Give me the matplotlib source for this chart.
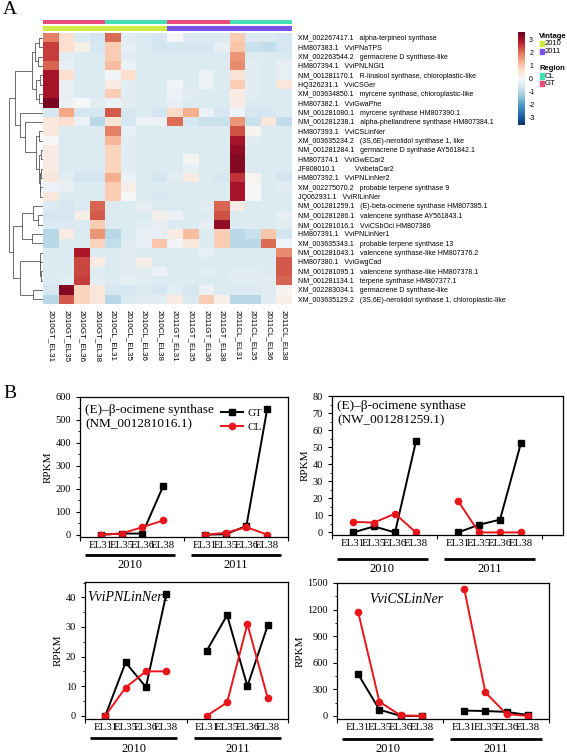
import numpy as np
import matplotlib
matplotlib.use("Agg")
import matplotlib.pyplot as plt
from matplotlib.colors import ListedColormap
from matplotlib.patches import Rectangle

plt.rcParams["axes.unicode_minus"] = False
W, H = 567, 754

# ---- panel A data -------------------------------------------------------
genes = [
    "XM_002267417.1   alpha-terpineol synthase",
    "HM807383.1   VviPNaTPS",
    "XM_002263544.2   germacrene D synthase-like",
    "HM807394.1   VviPNLNGl1",
    "NM_001281170.1   R-linalool synthase, chloroplastic-like",
    "HQ326231.1   VviCSGer",
    "XM_003634850.1   myrcene synthase, chloroplastic-like",
    "HM807382.1   VviGwaPhe",
    "NM_001281080.1   myrcene synthase HM807390.1",
    "NM_001281238.1   alpha-phellandrene synthase HM807384.1",
    "HM807393.1   VviCSLinNer",
    "XM_003635234.2   (3S,6E)-nerolidol synthase 1, like",
    "NM_001281284.1   germacrene D synthase AY561842.1",
    "HM807374.1   VviGwECar2",
    "JF808010.1          VvibetaCar2",
    "HM807392.1   VviPNLinNer2",
    "XM_002275070.2   probable terpene synthase 9",
    "JQ062931.1   VviRILinNer",
    "NM_001281259.1   (E)-beta-ocimene synthase HM807385.1",
    "NM_001281286.1   valencene synthase AY561843.1",
    "NM_001281016.1   VviCSbOci HM807386",
    "HM807391.1   VviPNLinNer1",
    "XM_003635343.1   probable terpene synthase 13",
    "NM_001281043.1   valencene synthase-like HM807376.2",
    "HM807380.1   VviGwgCad",
    "NM_001281095.1   valencene synthase-like HM807378.1",
    "NM_001281134.1   terpene synthase HM807377.1",
    "XM_002283034.1   germacrene D synthase-like",
    "XM_003635129.2   (3S,6E)-nerolidol synthase 1, chloroplastic-like",
]
samples = ["2010GT_EL31", "2010GT_EL35", "2010GT_EL36", "2010GT_EL38",
           "2010CL_EL31", "2010CL_EL35", "2010CL_EL36", "2010CL_EL38",
           "2011GT_EL31", "2011GT_EL35", "2011GT_EL36", "2011GT_EL38",
           "2011CL_EL31", "2011CL_EL35", "2011CL_EL36", "2011CL_EL38"]
region = ["GT"] * 4 + ["CL"] * 4 + ["GT"] * 4 + ["CL"] * 4
vintage = ["2010"] * 8 + ["2011"] * 8

zscores = np.array([
    [1.8, 0.6, -0.5, -0.7, 2.0, -0.4, -0.5, -0.6, 0.0, -0.5, -0.5, -0.5, 0.9, -0.5, -0.5, -0.6],
    [2.5, 0.6, 0.2, -0.6, 0.9, -0.3, -0.5, -0.7, -0.6, -0.6, -0.6, -0.3, 1.0, -0.8, -0.9, -0.6],
    [2.5, -0.4, -0.5, -0.5, 0.9, -0.4, -0.5, -0.5, -0.5, -0.5, -0.5, -0.5, 1.6, -0.5, -0.5, -0.5],
    [2.1, -0.3, -0.5, -0.5, 1.1, -0.2, -0.5, -0.5, -0.5, -0.5, -0.5, -0.5, 1.7, -0.4, -0.5, -0.3],
    [3.0, 0.6, -0.5, -0.5, -0.1, 0.6, -0.5, -0.5, -0.5, -0.5, -0.2, -0.5, 0.5, -0.4, -0.5, -0.3],
    [3.0, -0.3, -0.5, -0.5, 0.3, -0.4, -0.5, -0.5, -0.1, -0.5, -0.2, -0.5, 0.9, -0.4, -0.5, 0.4],
    [3.0, -0.3, -0.5, -0.5, 0.9, -0.4, -0.5, -0.5, -0.2, -0.4, -0.5, -0.5, 0.3, -0.4, -0.5, -0.5],
    [3.4, -0.2, 0.0, -0.4, -0.2, -0.4, -0.5, -0.5, -0.3, -0.5, -0.5, -0.5, 0.3, -0.5, -0.5, -0.5],
    [-0.6, 1.4, -0.6, -0.6, 2.2, -0.6, -0.5, -0.7, 0.7, 1.3, -0.2, -0.6, -0.1, -0.6, -0.6, -0.5],
    [0.4, 0.6, -0.2, -1.0, 0.5, -0.6, -0.2, -0.2, 2.0, -0.6, -0.8, -0.8, 1.6, -0.8, 0.4, -0.9],
    [0.4, -0.5, -0.5, -0.5, 1.8, -0.3, -0.5, -0.5, -0.5, -0.5, -0.5, -0.5, 2.3, 0.1, -0.5, -0.5],
    [0.0, -0.5, -0.5, -0.5, 1.2, -0.4, -0.5, -0.5, -0.5, -0.5, -0.5, -0.5, 3.0, -0.4, -0.5, -0.5],
    [0.3, -0.5, -0.5, -0.5, 0.8, -0.4, -0.5, -0.5, -0.5, -0.5, -0.5, -0.5, 3.2, -0.5, -0.5, -0.5],
    [0.3, -0.5, -0.5, -0.5, 0.8, -0.4, -0.5, -0.5, -0.5, 0.1, -0.5, -0.5, 3.3, -0.5, -0.5, -0.5],
    [0.3, -0.5, -0.5, -0.5, 0.8, -0.4, -0.5, -0.5, -0.5, -0.3, -0.5, -0.5, 3.3, -0.5, -0.5, -0.5],
    [0.4, -0.4, -0.7, -0.7, 1.3, -0.2, -0.5, -0.7, -0.4, 0.3, -0.5, -0.6, 2.6, 0.1, -0.5, -0.7],
    [-0.2, -0.3, -0.5, -0.5, 0.9, 0.2, -0.5, -0.5, -0.5, -0.5, -0.5, -0.5, 3.0, 0.0, -0.5, -0.4],
    [0.4, -0.5, -0.5, -0.5, 0.9, 0.0, -0.5, -0.6, -0.5, -0.5, -0.5, -0.5, 3.0, 0.0, -0.5, -0.5],
    [-0.5, -0.6, -0.5, 2.1, -0.5, -0.5, -0.3, -0.5, -0.5, -0.5, -0.4, 2.1, 0.3, -0.5, -0.5, -0.5],
    [-0.6, -0.6, 0.2, 2.2, -0.5, -0.5, -0.5, 0.2, -0.2, -0.5, -0.5, 2.3, -0.5, -0.5, -0.5, -0.3],
    [-0.5, -0.5, -0.5, 0.9, -0.5, -0.5, -0.4, -0.3, -0.5, -0.5, -0.3, 3.2, -0.5, -0.5, -0.5, -0.4],
    [-1.0, 0.3, -0.5, 1.6, -1.0, -0.5, -0.3, -0.3, 0.3, 1.1, -0.5, 0.9, -1.0, -0.8, 1.0, -0.7],
    [-1.0, -0.5, -0.5, 0.8, -0.9, -0.4, -0.3, 1.0, -0.1, 0.4, -0.5, 0.9, -1.0, -1.0, 2.0, -0.1],
    [-0.5, -0.5, 2.9, -0.5, -0.5, -0.4, -0.5, -0.5, -0.5, -0.5, -0.3, -0.5, -0.5, -0.5, -0.5, 1.7],
    [-0.5, -0.5, 2.4, 0.3, -0.5, -0.4, 0.2, -0.5, -0.5, -0.5, -0.5, -0.5, -0.5, -0.5, -0.5, 2.2],
    [-0.5, -0.5, 2.4, -0.4, -0.5, -0.4, -0.4, -0.2, -0.5, -0.5, -0.4, -0.5, -0.4, -0.4, -0.5, 2.2],
    [-0.5, -0.4, 2.5, -0.4, -0.5, -0.3, -0.4, -0.5, -0.5, -0.5, -0.5, -0.5, -0.4, -0.4, -0.4, 2.1],
    [-0.6, 3.3, 0.8, 0.4, -0.6, -0.6, -0.5, -0.6, -0.4, -0.6, -0.2, -0.5, -0.5, -0.5, -0.4, 0.1],
    [-1.0, 2.2, 0.8, 0.4, -1.0, -0.5, -0.4, -0.4, 0.3, -0.5, 0.9, 0.2, -1.0, -1.0, -0.4, 0.2],
])

# row dendrogram: (height, left, right), leaves are row indices
tree = (10.0,
        (8.2,
         (3.3, (2.4, (1.3, 0, 1), (1.6, 2, 3)), (2.0, (1.0, 4, 5), (1.2, 6, 7))),
         (6.8, 8, (5.3, 9, (2.0, (1.3, 10, 11),
                            (1.1, (0.6, 12, 13), (0.9, (0.5, 14, 15), (0.8, 16, 17))))))),
        (8.9,
         (6.2, (2.9, 18, (1.6, 19, 20)), (3.2, 21, 22)),
         (6.8, (1.0, 23, (0.8, 24, (0.5, 25, 26))), (3.0, 27, 28))))

# ---- panel B data (RPKM; 2010 EL31..EL38 then 2011 EL31..EL38) -----------
stages = ["EL31", "EL35", "EL36", "EL38"]
years = ["2010", "2011"]
oci1016_gt = [0, 5, 5, 212, 0, 2, 38, 548]
oci1016_cl = [0, 5, 33, 62, 0, 8, 33, 0]
oci1259_gt = [0, 3.5, 0, 53.5, 0, 4.5, 7.5, 52.5]
oci1259_cl = [6.2, 5.8, 11, 0, 18.5, 0, 0, 0]
pnlin_gt = [0, 18, 9.7, 41, 22, 34, 10, 30.5]
pnlin_cl = [0, 9.5, 15, 15, 0, 4.5, 31, 6]
cslin_gt = [470, 70, 0, 0, 60, 55, 45, 10]
cslin_cl = [1170, 160, 5, 0, 1435, 265, 20, 0]

GT_COL, CL_COL = "#E94B7B", "#45E0B4"
Y10_COL, Y11_COL = "#CCEB45", "#7B52E8"
RED = "#E8161B"


def box(x0, y0, x1, y1):
    return [x0 / W, 1 - y1 / H, (x1 - x0) / W, (y1 - y0) / H]


fig = plt.figure(figsize=(W / 100, H / 100), dpi=100)
sans = ["Liberation Sans", "DejaVu Sans"]
serif = ["Liberation Serif", "DejaVu Serif"]

fig.text(3 / W, 1 - 9 / H, "A", family=serif, fontsize=14, va="center")
fig.text(3 / W, 1 - 393 / H, "B", family=serif, fontsize=14, va="center")

# heatmap
ax = fig.add_axes(box(43, 33.3, 292, 304))
im = ax.imshow(zscores, cmap="RdBu_r", vmin=-3.6, vmax=3.6, aspect="auto",
               interpolation="nearest")
ax.yaxis.tick_right()
ax.set_yticks(range(len(genes)))
ax.set_yticklabels(genes, family=sans, fontsize=5)
ax.set_xticks(range(len(samples)))
ax.set_xticklabels(samples, family=sans, fontsize=5.8, rotation=-90)
ax.tick_params(length=0, pad=4)
for s in ax.spines.values():
    s.set_visible(False)

# annotation bars
for top, bottom, vals, cats, cols in [
        (20, 24.3, region, ["GT", "CL"], [GT_COL, CL_COL]),
        (26, 31, vintage, ["2010", "2011"], [Y10_COL, Y11_COL])]:
    bax = fig.add_axes(box(43, top, 292, bottom))
    idx = np.array([[cats.index(v) for v in vals]])
    bax.imshow(idx, cmap=ListedColormap(cols), vmin=0, vmax=1, aspect="auto",
               interpolation="nearest")
    bax.axis("off")

# dendrogram
dax = fig.add_axes(box(5, 33.3, 43, 304))


def draw_tree(node):
    if isinstance(node, int):
        return node, 0.0
    h, left, right = node
    yl, hl = draw_tree(left)
    yr, hr = draw_tree(right)
    dax.plot([hl, h, h, hr], [yl, yl, yr, yr], color="#555555", lw=0.6)
    return (yl + yr) / 2, h


draw_tree(tree)
dax.set_xlim(11.2, 0)
dax.set_ylim(len(genes) - 0.5, -0.5)
dax.axis("off")

# colorbar
cax = fig.add_axes(box(517.7, 31.7, 525, 125))
cb = fig.colorbar(im, cax=cax, ticks=[-3, -2, -1, 0, 1, 2, 3])
cb.outline.set_visible(False)
cax.tick_params(length=0, labelsize=5, pad=3)
for t in cax.get_yticklabels():
    t.set_family(sans)

# annotation legend
lax = fig.add_axes([0, 0, 1, 1])
lax.set_xlim(0, W)
lax.set_ylim(H, 0)
lax.axis("off")
lax.text(539, 36, "Vintage", family=sans, fontsize=5.5, weight="bold", va="center")
lax.text(539, 69, "Region", family=sans, fontsize=5.5, weight="bold", va="center")
for y, lab, col in [(43.5, "2010", Y10_COL), (51.5, "2011", Y11_COL),
                    (76, "CL", CL_COL), (83.5, "GT", GT_COL)]:
    lax.add_patch(Rectangle((539.5, y - 2.8), 4, 5.6, color=col))
    lax.text(545, y, lab, family=sans, fontsize=5.5, va="center")


# line panels
def line_panel(rect, gt, cl, ylim, step, xmax, under, title, tpos, italic, ha, tsize):
    a = fig.add_axes(box(*rect))
    for i in range(2):
        xs = np.arange(1, 5) + 5 * i
        a.plot(xs, gt[4 * i:4 * i + 4], color="black", marker="s", ms=4.3,
               lw=1.4, label="GT" if i == 0 else None)
        a.plot(xs, cl[4 * i:4 * i + 4], color=RED, marker="o", ms=4.5,
               lw=1.4, label="CL" if i == 0 else None)
    a.set_xlim(0, xmax)
    a.set_ylim(*ylim)
    a.set_yticks(np.arange(0, ylim[1] + 1, step))
    a.set_yticks(np.arange(step / 2, ylim[1], step), minor=True)
    a.set_xticks([0, 5, 10])
    a.set_xticklabels([])
    a.set_xticks([x + 5 * i for i in range(2) for x in range(1, 5)], minor=True)
    a.set_xticklabels(stages * 2, minor=True, family=serif, fontsize=7.8)
    a.tick_params(axis="x", which="minor", length=0, pad=3)
    a.tick_params(axis="both", which="major", direction="out", length=3, width=0.8)
    a.tick_params(axis="y", which="minor", direction="out", length=1.8, width=0.6)
    for t in a.get_yticklabels():
        t.set_family(serif)
        t.set_fontsize(7.5)
    a.set_ylabel("RPKM", family=serif, fontsize=8, labelpad=2)
    for s in a.spines.values():
        s.set_linewidth(0.9)
    hpx = rect[3] - rect[1]
    lt = a.get_xaxis_transform()
    for i, yr in enumerate(years):
        x0, x1 = 0.25 + 5.1 * i, 4.55 + 5.1 * i
        a.plot([x0, x1], [-under / hpx] * 2, color="black", lw=2, transform=lt,
               clip_on=False, solid_capstyle="butt")
        a.text((x0 + x1) / 2, -(under + 10.5) / hpx, yr, transform=lt,
               family=serif, fontsize=9, ha="center", va="center")
    a.text(tpos[0], tpos[1], title, transform=a.transAxes, family=serif,
           fontsize=tsize, style="italic" if italic else "normal", ha=ha,
           va="top", linespacing=1.25)
    return a


ax1 = line_panel((80, 397, 288, 537), oci1016_gt, oci1016_cl, (-10, 600), 100, 10,
                 18, "(E)\u2013\u03b2-ocimene synthase\n(NM_001281016.1)",
                 (0.025, 0.95), False, "left", 9.5)
ax1.legend(loc="upper left", bbox_to_anchor=(0.64, 0.975), frameon=False,
           prop={"family": serif, "size": 8}, handlelength=2.0,
           handletextpad=0.4, labelspacing=0.35, borderpad=0.2)
line_panel((332, 396, 563, 535), oci1259_gt, oci1259_cl, (-1.5, 80), 10, 11,
           24, "(E)\u2013\u03b2-ocimene synthase\n(NW_001281259.1)",
           (0.022, 0.97), False, "left", 9.5)
line_panel((85, 582, 288, 719), pnlin_gt, pnlin_cl, (-1.1, 45.2), 10, 10,
           19, "VviPNLinNer1", (0.012, 0.935), True, "left", 10)
line_panel((337, 583, 549, 719), cslin_gt, cslin_cl, (-35, 1500), 300, 10,
           20, "VviCSLinNer", (0.325, 0.93), True, "center", 10)

fig.savefig("out.png", dpi=100)
